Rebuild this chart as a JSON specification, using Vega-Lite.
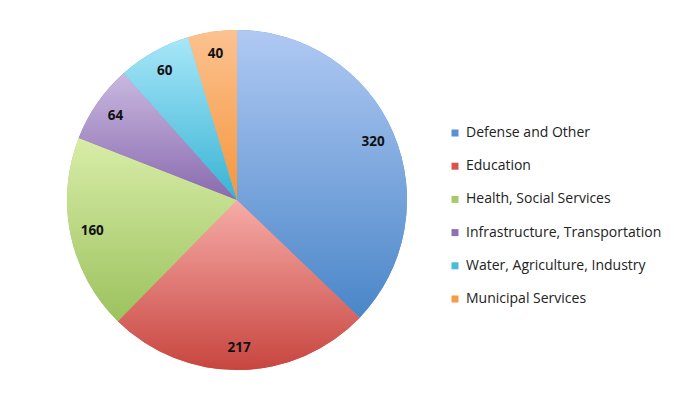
{
  "$schema": "https://vega.github.io/schema/vega-lite/v6.json",
  "width": 340,
  "height": 340,
  "autosize": {"type": "none"},
  "padding": {"left": 67, "top": 30, "right": 267, "bottom": 45},
  "background": "white",
  "data": {
    "values": [
      {"category": "Defense and Other", "value": 320, "order": 1},
      {"category": "Education", "value": 217, "order": 2},
      {"category": "Health, Social Services", "value": 160, "order": 3},
      {"category": "Infrastructure, Transportation", "value": 64, "order": 4},
      {"category": "Water, Agriculture, Industry", "value": 60, "order": 5},
      {"category": "Municipal Services", "value": 40, "order": 6}
    ]
  },
  "config": {"view": {"stroke": null}},
  "encoding": {
    "theta": {"field": "value", "type": "quantitative", "stack": true},
    "order": {"field": "order", "type": "quantitative"}
  },
  "layer": [
    {
      "mark": {"type": "arc", "stroke": null},
      "encoding": {
        "color": {
          "field": "category",
          "type": "nominal",
          "scale": {
            "domain": ["Defense and Other", "Education", "Health, Social Services", "Infrastructure, Transportation", "Water, Agriculture, Industry", "Municipal Services"],
            "range": ["#5b8fd6", "#d9534f", "#a6c96a", "#8f72b4", "#4bbcd8", "#f79a46"]
          },
          "legend": {
            "title": null,
            "orient": "none",
            "legendX": 381,
            "legendY": 96,
            "symbolType": "square",
            "symbolSize": 49,
            "symbolStrokeWidth": 0,
            "labelFont": "Open Sans",
            "labelFontSize": 14,
            "labelColor": "#222222",
            "labelOffset": 4,
            "rowPadding": 19.2,
            "labelLimit": 300
          }
        }
      }
    },
    {
      "mark": {"type": "arc", "stroke": null},
      "encoding": {
        "fill": {
          "condition": [
            {"test": "datum.category === 'Defense and Other'", "value": {"gradient": "linear", "x1": 0, "y1": 0, "x2": 0, "y2": 1, "stops": [{"offset": 0, "color": "#b0c9f3"}, {"offset": 1, "color": "#4a86c8"}]}},
            {"test": "datum.category === 'Education'", "value": {"gradient": "linear", "x1": 0, "y1": 0, "x2": 0, "y2": 1, "stops": [{"offset": 0, "color": "#f6aca8"}, {"offset": 1, "color": "#c8453f"}]}},
            {"test": "datum.category === 'Health, Social Services'", "value": {"gradient": "linear", "x1": 0, "y1": 0, "x2": 0, "y2": 1, "stops": [{"offset": 0, "color": "#d8eda8"}, {"offset": 1, "color": "#9cc25e"}]}},
            {"test": "datum.category === 'Infrastructure, Transportation'", "value": {"gradient": "linear", "x1": 0, "y1": 0, "x2": 0, "y2": 1, "stops": [{"offset": 0, "color": "#c9b8e0"}, {"offset": 1, "color": "#8a6aae"}]}},
            {"test": "datum.category === 'Water, Agriculture, Industry'", "value": {"gradient": "linear", "x1": 0, "y1": 0, "x2": 0, "y2": 1, "stops": [{"offset": 0, "color": "#a8e6f8"}, {"offset": 1, "color": "#38b4d4"}]}},
            {"test": "datum.category === 'Municipal Services'", "value": {"gradient": "linear", "x1": 0, "y1": 0, "x2": 0, "y2": 1, "stops": [{"offset": 0, "color": "#fcc290"}, {"offset": 1, "color": "#f5963c"}]}}
          ],
          "value": "#cccccc"
        }
      }
    },
    {
      "mark": {"type": "text", "radius": 148, "font": "Open Sans", "fontWeight": "bold", "fontSize": 13.5, "color": "#111111"},
      "encoding": {
        "text": {"field": "value", "type": "quantitative"}
      }
    }
  ]
}
